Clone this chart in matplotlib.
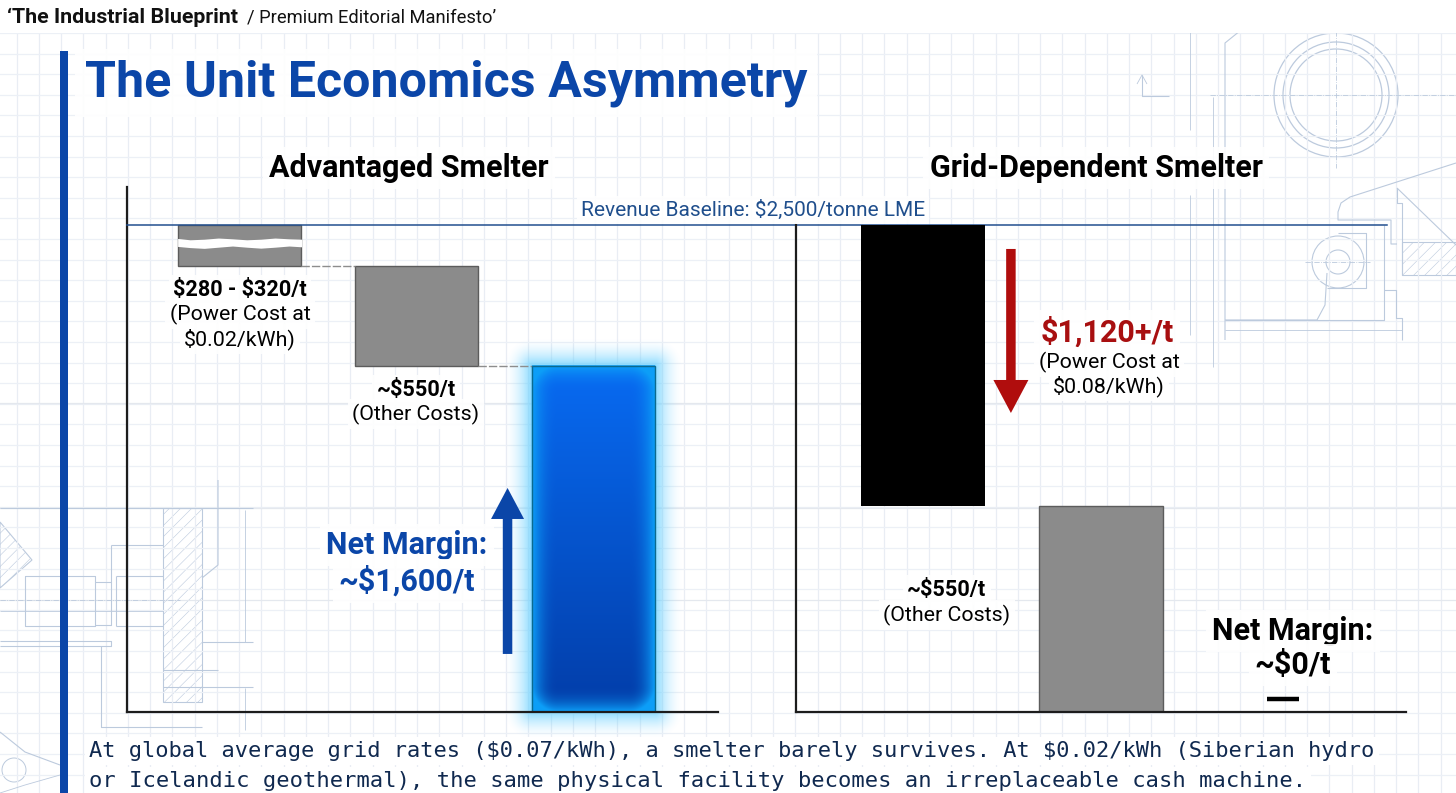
import numpy as np
import matplotlib
matplotlib.use("Agg")
import matplotlib.pyplot as plt
from matplotlib.patches import Circle, Polygon, Rectangle

plt.rcParams['font.family'] = ['Roboto', 'DejaVu Sans']
plt.rcParams['hatch.linewidth'] = 0.4
plt.rcParams['hatch.color'] = '#bccadd'

# values, $/t (bar heights as drawn, not to the printed labels)
revenue = 2500
left_positions = [0, 1, 2]
left_heights = [210, 513, 1777]
right_positions = [0, 1]
right_heights = [1442, 1058]
right_zero_x = 2.02
right_zero_y = 67
bar_width = 0.695

# wavy break in the first left bar
break_x = [-0.35, -0.28, -0.2, -0.12, -0.04, 0.04, 0.12, 0.2, 0.28, 0.35]
break_top = [2431, 2424, 2427, 2433, 2429, 2424, 2427, 2433, 2429, 2427]
break_bottom = [2390, 2384, 2380, 2386, 2392, 2386, 2381, 2386, 2392, 2388]

BLUE = '#0b46a8'
NAVY = '#10294f'
LINE = '#bccadd'
W, H = 1456, 793

fig = plt.figure(figsize=(W / 100, H / 100), dpi=100, facecolor='white')


def px_axes(x0, y0, x1, y1, **kw):
    # axes placed by pixel box, y0 is the top edge
    return fig.add_axes([x0 / W, 1 - y1 / H, (x1 - x0) / W, (y1 - y0) / H], **kw)


# ---- blueprint background
bg = px_axes(0, 0, W, H, zorder=0)
bg.set_xlim(0, W)
bg.set_ylim(H, 0)
bg.axis('off')

for x in np.arange(16.5, W, 22.25):
    bg.plot([x, x], [33, H], color='#e9edf4', lw=0.9)
for y in np.arange(33, H, 20.6):
    bg.plot([0, W], [y, y], color='#ecf0f6', lw=0.9)
for y in [403, 508, 600]:
    bg.plot([0, W], [y, y], color='#e4e8ee', lw=0.9)


def pl(points, ls='-', lw=0.8):
    xs, ys = zip(*points)
    bg.plot(xs, ys, color=LINE, lw=lw, ls=ls, solid_capstyle='butt')


# top right part
for r in [62, 53, 46]:
    bg.add_patch(Circle((1336, 95), r, fill=False, ec=LINE, lw=0.9))
pl([(1210, 95), (1456, 95)], ls='-.', lw=0.6)
pl([(1336, 22), (1336, 168)], ls='-.', lw=0.6)
pl([(1456, 5), (1272, 5), (1225, 43), (1225, 340)])
pl([(1213, 97), (1213, 367)], lw=0.6)
pl([(1190, 0), (1190, 130)], lw=0.6)
pl([(1190, 195), (1190, 335)], lw=0.6)
pl([(1142, 75), (1142, 96), (1169, 96)])
pl([(1137, 84), (1142, 75), (1147, 84)], lw=0.6)

# clamp on the right
pl([(1456, 163), (1350, 197), (1341, 203), (1338, 212), (1338, 220), (1391, 220), (1391, 244), (1397, 244)])
pl([(1397, 188), (1456, 245)])
pl([(1397, 188), (1397, 203), (1402, 203), (1402, 275)])
bg.add_patch(Polygon([(1402, 242), (1456, 242), (1456, 275), (1402, 275)], fill=False, ec=LINE, lw=0.8, hatch='///'))
bg.add_patch(Circle((1338, 262), 12, fill=False, ec=LINE, lw=0.8))
bg.add_patch(Circle((1338, 262), 26, fill=False, ec=LINE, lw=0.8))
pl([(1338, 233), (1366, 233), (1366, 288), (1327, 288)])
pl([(1225, 320), (1317, 320), (1325, 305), (1327, 273)])
pl([(1225, 320), (1384, 320), (1384, 225)])
pl([(1225, 330), (1402, 330)], lw=0.6)
pl([(1384, 290), (1396, 290), (1396, 318), (1402, 318), (1402, 340)])
pl([(1305, 262), (1370, 262)], ls='-.', lw=0.6)

# shaft drawing on the left
bg.add_patch(Polygon([(163, 508), (202, 508), (202, 702), (163, 702)], fill=False, ec=LINE, lw=0.8, hatch='///'))
pl([(0, 508), (253, 508)])
pl([(245, 510), (245, 642)], lw=0.6)
pl([(245, 688), (245, 730)], lw=0.6)
pl([(202, 642), (253, 642)])
pl([(163, 687), (253, 687)])
pl([(163, 670), (218, 670)])
pl([(218, 480), (218, 565), (202, 578)])
pl([(25, 576), (95, 576), (95, 626), (25, 626), (25, 576)])
pl([(95, 582), (111, 582), (111, 625), (95, 625)])
pl([(116, 576), (163, 576)])
pl([(116, 626), (163, 626)])
pl([(116, 576), (116, 626)])
pl([(111, 545), (163, 545)])
pl([(111, 545), (111, 582)])
pl([(0, 600), (180, 600)], ls='-.', lw=0.6)
pl([(0, 611), (163, 611)], lw=0.6)
pl([(0, 641), (111, 641), (111, 646), (0, 646)])
pl([(101, 646), (101, 727), (202, 727)])
bg.add_patch(Polygon([(0, 522), (32, 560), (0, 588)], fill=False, ec=LINE, lw=0.8, hatch='///'))
bg.add_patch(Circle((14, 770), 12, fill=False, ec=LINE, lw=0.7))
pl([(0, 732), (25, 752), (60, 765)])
pl([(0, 793), (25, 785), (60, 775)], lw=0.6)
bg.add_patch(Rectangle((0, 0), W, 33, fc='white', ec='none', zorder=5))

# ---- left panel
ax1 = px_axes(127, 187, 718, 712, zorder=2)
# ---- right panel
ax2 = px_axes(796, 225, 1406, 712, zorder=2)

for ax in (ax1, ax2):
    ax.patch.set_alpha(0)
    ax.set_xticks([])
    ax.set_yticks([])
    ax.spines[['top', 'right']].set_visible(False)
    ax.spines[['left', 'bottom']].set_linewidth(1.6)
    ax.spines[['left', 'bottom']].set_color('#1c1c1c')

tops1 = revenue - np.cumsum([0] + left_heights[:2])
bottoms1 = tops1 - np.array(left_heights)
grey = dict(color='#8b8b8b', edgecolor='#5c5c5c', linewidth=1.0)
ax1.bar(left_positions[0], left_heights[0], bar_width, bottom=bottoms1[0], **grey)
ax1.bar(left_positions[1], left_heights[1], bar_width, bottom=bottoms1[1], **grey)
ax1.fill_between(break_x, break_bottom, break_top, color='white', lw=0, zorder=3)

# glowing net margin bar, a picture built around the bar box
xc = left_positions[2]
x_pad, y_pad = 0.19, 165
x0, x1 = xc - bar_width / 2, xc + bar_width / 2
y0, y1 = bottoms1[2], tops1[2]
gx = np.linspace(x0 - x_pad, x1 + x_pad, 220)
gy = np.linspace(y1 + y_pad, y0 - y_pad, 460)
mx, my = np.meshgrid(gx, gy)
# distance to the box in pixels
sx, sy = 177.0, 487 / 2500
dx = (np.abs(mx - xc) - bar_width / 2) * sx
dy = (np.abs(my - (y0 + y1) / 2) - (y1 - y0) / 2) * sy
out = np.hypot(np.maximum(dx, 0), np.maximum(dy, 0))
# rounded inner falloff so the bright rim has no hard corners
r = 26
rim = np.hypot(np.maximum(dx + r, 0), np.maximum(dy + r, 0)) / r
frac = np.clip((y1 - my) / (y1 - y0), 0, 1)[..., None]
body = (1 - frac) * np.array([0.03, 0.42, 0.95]) + frac * np.array([0.01, 0.24, 0.66])
edge = np.clip(rim, 0, 1)[..., None] ** 2.2
body = (1 - edge) * body + edge * np.array([0.05, 0.62, 0.97])
rgba = np.zeros(mx.shape + (4,))
rgba[..., :3] = np.where(out[..., None] > 0, np.array([0.42, 0.82, 1.0]), body)
rgba[..., 3] = np.where(out > 0, np.clip(1 - out / 28, 0, 1) ** 1.8 * 0.8, 1)
ax1.imshow(rgba, extent=(gx[0], gx[-1], gy[-1], gy[0]), aspect='auto', zorder=1, clip_on=False, interpolation='bilinear')
ax1.bar(xc, left_heights[2], bar_width, bottom=y0, facecolor='none', edgecolor='#0b6a8f', linewidth=1.0, zorder=2)

# dashed step connectors
conn = dict(color='#8d8d8d', lw=1.0, ls=(0, (6, 1.5)), zorder=1.5)
ax1.plot([left_positions[0] + bar_width / 2, left_positions[1] - bar_width / 2], [tops1[1], tops1[1]], **conn)
ax1.plot([left_positions[1] + bar_width / 2, left_positions[2] - bar_width / 2], [tops1[2], tops1[2]], **conn)

top2 = revenue - right_heights[0]
ax2.bar(right_positions[0], right_heights[0], bar_width, bottom=top2, color='black')
ax2.bar(right_positions[1], right_heights[1], bar_width, bottom=0, **grey)
ax2.plot([right_zero_x - 0.09, right_zero_x + 0.09], [right_zero_y, right_zero_y], color='black', lw=3.2, solid_capstyle='butt')

# revenue line runs across both panels
ax1.plot([-0.636, 6.48], [revenue, revenue], color='#23508f', lw=1.1, clip_on=False, zorder=4)

ax1.set_xlim(-0.636, 2.703)
ax1.set_ylim(0, 2695)
ax2.set_xlim(-0.713, 2.713)
ax2.set_ylim(0, revenue)


def arrow(ax, x, y_from, y_to, color, head_w, head_l, tail_w):
    style = f'simple,head_length={head_l * 0.72},head_width={head_w * 0.72},tail_width={tail_w * 0.72}'
    ax.annotate('', xy=(x, y_to), xytext=(x, y_from),
                arrowprops=dict(arrowstyle=style, color=color, lw=0, shrinkA=0, shrinkB=0, mutation_scale=1))


arrow(ax1, 1.514, 298, 1150, BLUE, 33, 31, 9.5)
arrow(ax2, 0.494, 2377, 1535, '#b00d0d', 35, 33, 9.5)

# ---- text in pixel positions on a top layer
top = px_axes(0, 0, W, H, zorder=5)
top.set_xlim(0, W)
top.set_ylim(H, 0)
top.axis('off')

halo = dict(boxstyle='square,pad=0.2', fc='white', ec='none', alpha=0.9)


def label(x, y, s, size, weight='normal', color='black', ha='center'):
    top.text(x, y, s, fontsize=size, fontweight=weight, color=color, ha=ha, va='center', bbox=halo, parse_math=False)


top.add_patch(Rectangle((60, 51), 8, H - 51, fc=BLUE, ec='none'))

top.text(7, 17, '‘The Industrial Blueprint', fontsize=15.4, fontweight='bold', color='#111111', ha='left', va='center')
top.text(247, 17, '/ Premium Editorial Manifesto’', fontsize=13.2, color='#111111', ha='left', va='center')

label(85, 83, 'The Unit Economics Asymmetry', 36.1, 'bold', BLUE, ha='left')
label(409, 168, 'Advantaged Smelter', 22, 'bold')
label(1096, 168, 'Grid-Dependent Smelter', 22, 'bold')
label(753, 210, 'Revenue Baseline: $2,500/tonne LME', 15, color='#1f4e8c')

label(240, 290, '$280 - $320/t', 15.6, 'bold')
label(240, 314, '(Power Cost at', 15.4)
label(240, 339, '$0.02/kWh)', 15.4)
label(416, 390, '~$550/t', 15.6, 'bold')
label(416, 414, '(Other Costs)', 15.4)
label(407, 545, 'Net Margin:', 22, 'bold', BLUE)
label(407, 581, '~$1,600/t', 22, 'bold', BLUE)

label(1107, 332, '$1,120+/t', 22, 'bold', '#a80f10')
label(1109, 362, '(Power Cost at', 15.4)
label(1109, 386, '$0.08/kWh)', 15.4)
label(947, 590, '~$550/t', 15.6, 'bold')
label(947, 615, '(Other Costs)', 15.4)
label(1293, 631, 'Net Margin:', 22, 'bold')
label(1293, 665, '~$0/t', 22, 'bold')

mono = ['DejaVu Sans Mono']
box = dict(boxstyle='square,pad=0.2', fc='white', ec='none')
top.text(89, 751, 'At global average grid rates ($0.07/kWh), a smelter barely survives. At $0.02/kWh (Siberian hydro',
         fontsize=15.8, family=mono, color=NAVY, ha='left', va='center', bbox=box, parse_math=False)
top.text(89, 781, 'or Icelandic geothermal), the same physical facility becomes an irreplaceable cash machine.',
         fontsize=15.95, family=mono, color=NAVY, ha='left', va='center', bbox=box, parse_math=False)

fig.savefig('out.png', dpi=100)
